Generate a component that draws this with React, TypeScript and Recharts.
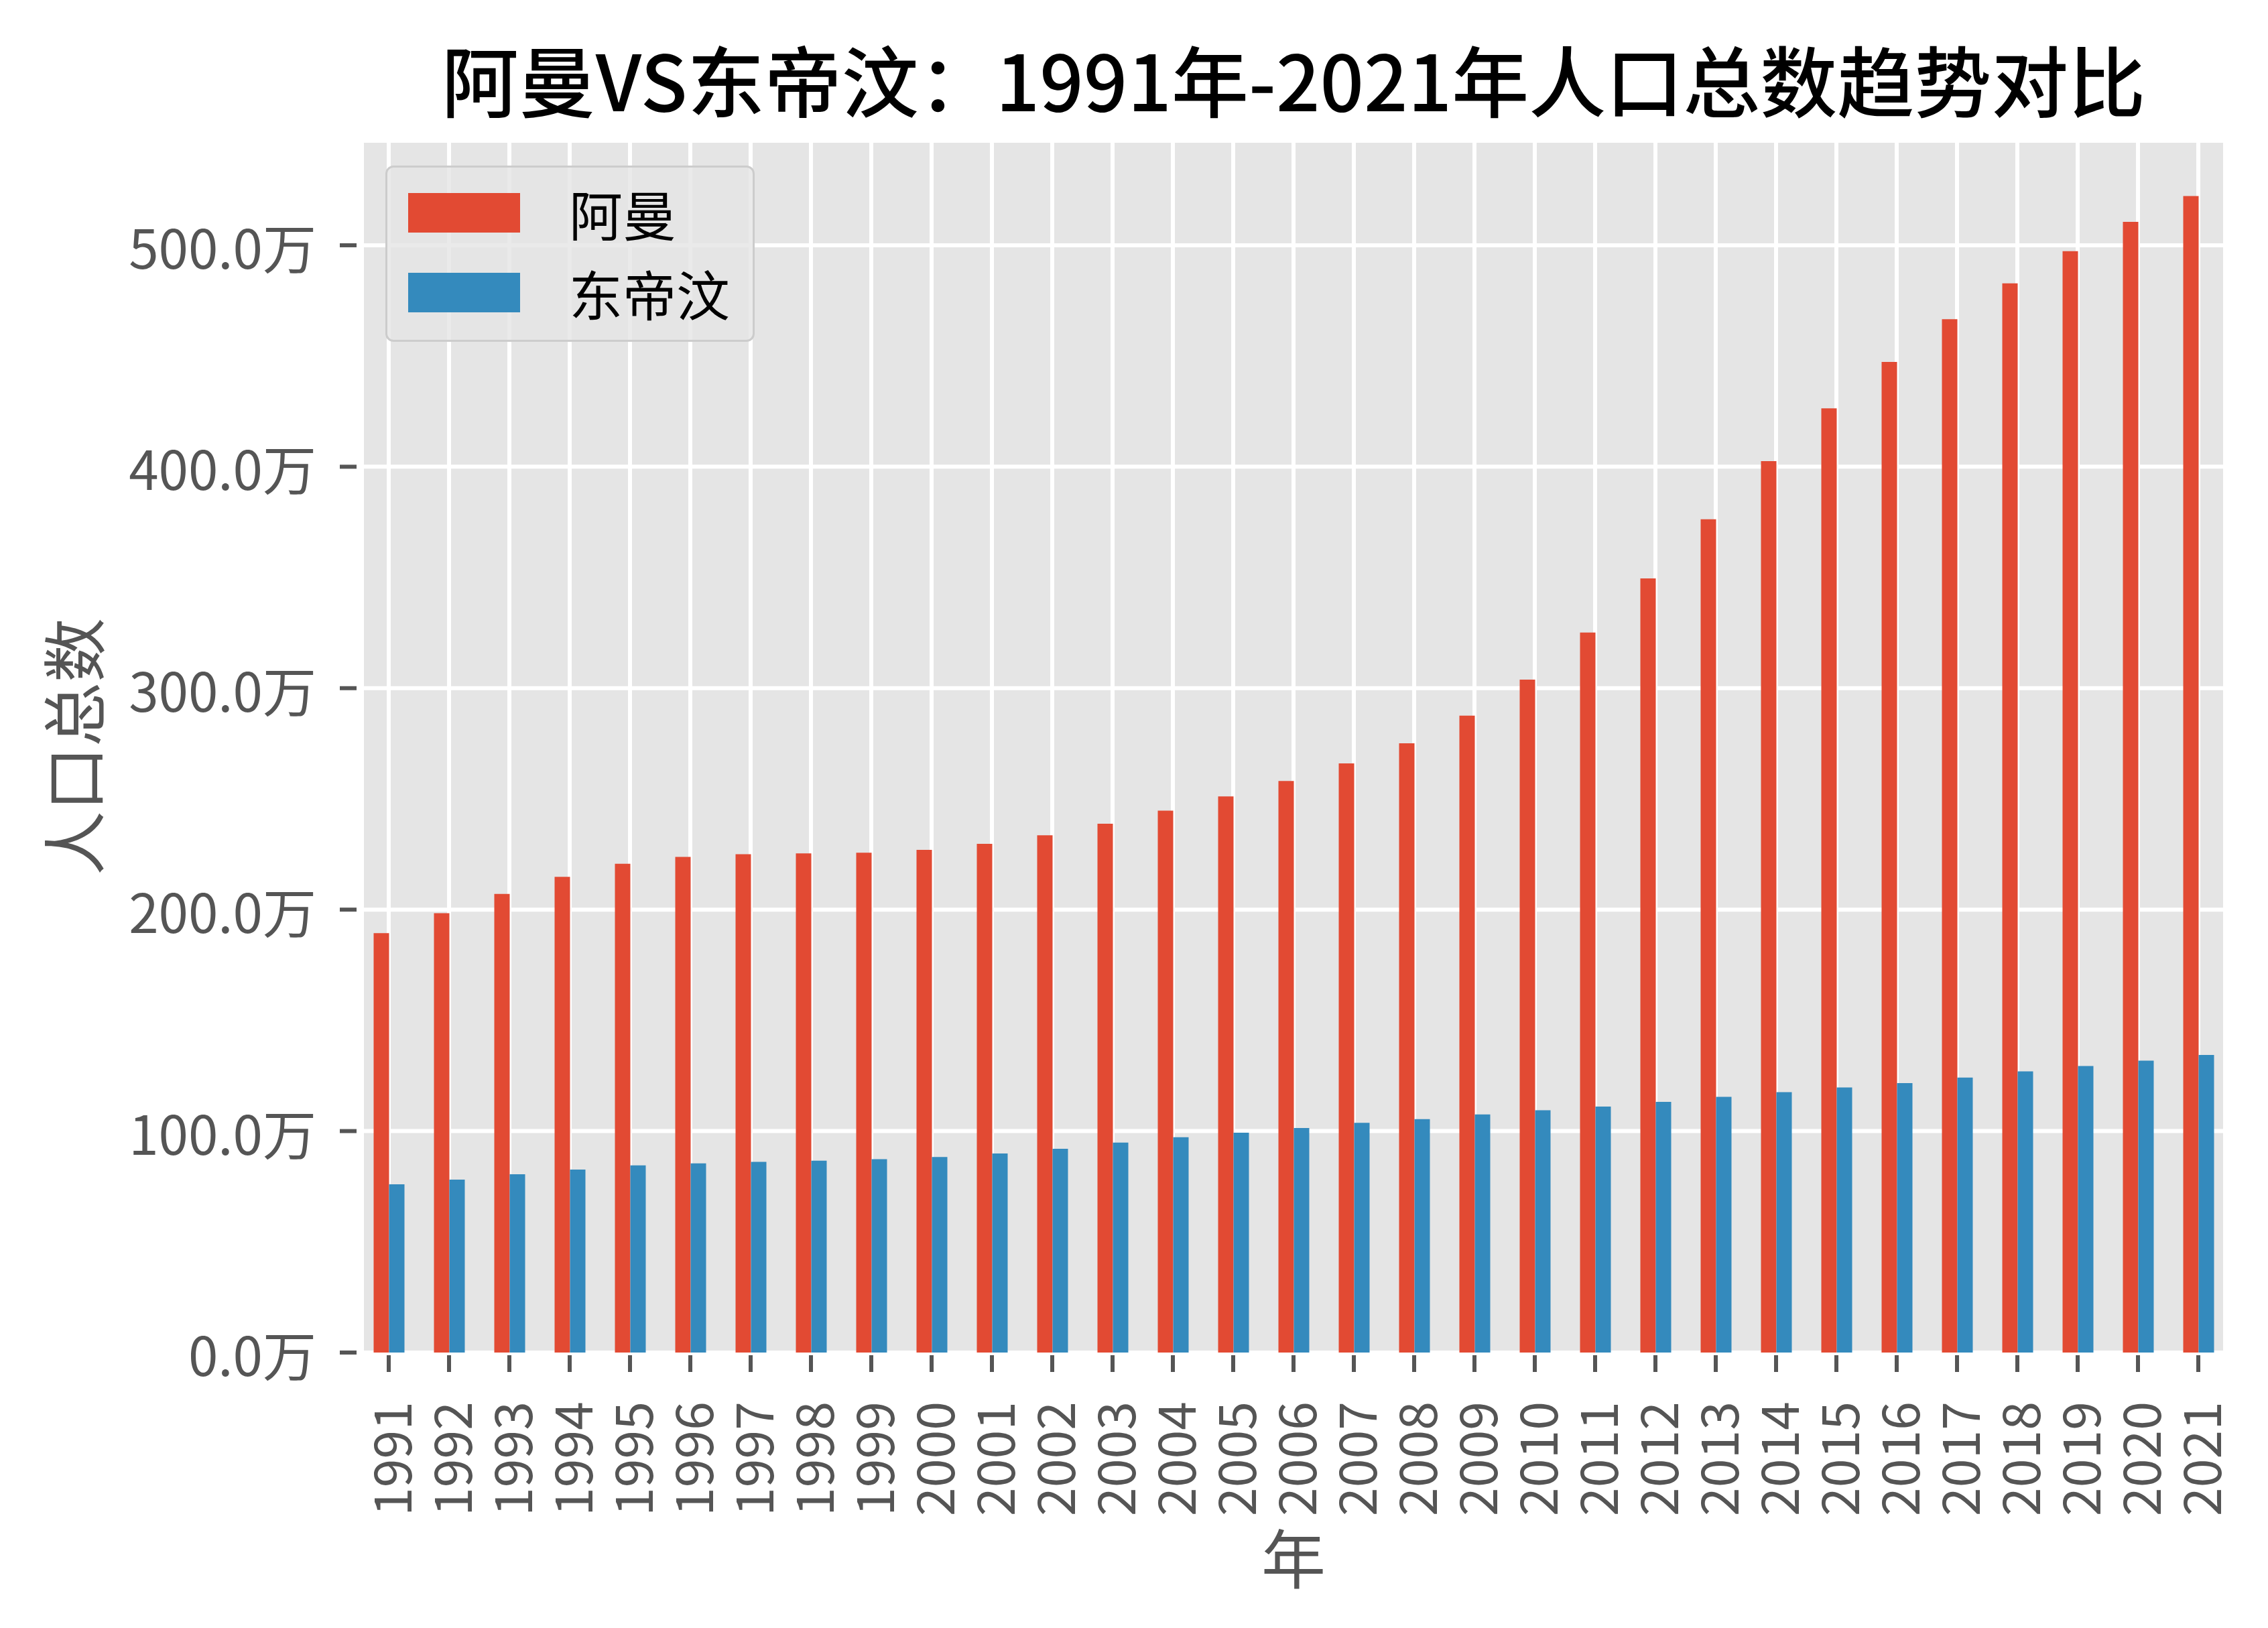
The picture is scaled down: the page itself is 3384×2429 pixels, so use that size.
import React from "react";
import { Bar, BarChart, CartesianGrid, Legend, XAxis, YAxis } from "recharts";

const years = ["1991", "1992", "1993", "1994", "1995", "1996", "1997", "1998", "1999", "2000", "2001", "2002", "2003", "2004", "2005", "2006", "2007", "2008", "2009", "2010", "2011", "2012", "2013", "2014", "2015", "2016", "2017", "2018", "2019", "2020", "2021"];

// 人口总数, 单位: 万
const oman = [189.4, 198.4, 207.1, 214.8, 220.7, 223.8, 225.0, 225.4, 225.7, 227.0, 229.7, 233.6, 238.8, 244.7, 251.1, 258.1, 266.0, 275.1, 287.6, 303.9, 325.1, 349.6, 376.3, 402.5, 426.4, 447.3, 466.6, 482.8, 497.3, 510.6, 522.2];
const timorLeste = [76.0, 78.1, 80.5, 82.6, 84.5, 85.4, 86.1, 86.6, 87.3, 88.3, 89.9, 92.0, 94.8, 97.2, 99.3, 101.4, 103.7, 105.4, 107.5, 109.4, 111.1, 113.2, 115.5, 117.6, 119.7, 121.7, 124.2, 127.0, 129.4, 131.8, 134.4];

const seriesKeys = ["oman", "timor"];
const yTicks = [0, 100, 200, 300, 400, 500];

const title = "阿曼VS东帝汶：1991年-2021年人口总数趋势对比";

const data = years.map((year, i) => ({ year, oman: oman[i], timor: timorLeste[i] }));

const W = 3384;
const H = 2429;
const LEFT = 540;
const RIGHT = 3320;
const TOP = 210;
const BOTTOM = 2018;
const FONT = '"Noto Sans CJK SC", "Noto Sans", sans-serif';
const GREY = "#555555";

function YTick(props: any) {
  const { y, payload } = props;
  return (
    <g>
      <line x1={LEFT - 33} x2={LEFT - 8} y1={y} y2={y} stroke={GREY} strokeWidth={6} />
      <text x={LEFT - 68} y={y} textAnchor="end" dominantBaseline="central" fontSize={80} fill={GREY} fontFamily={FONT}>
        {`${Number(payload.value).toFixed(1)}万`}
      </text>
    </g>
  );
}

function XTick(props: any) {
  const { x, payload } = props;
  return (
    <g>
      <line x1={x} x2={x} y1={BOTTOM + 4} y2={BOTTOM + 29} stroke={GREY} strokeWidth={6} />
      <text transform={`translate(${x},${BOTTOM + 73}) rotate(-90)`} textAnchor="end" dominantBaseline="central" fontSize={77} fill={GREY} fontFamily={FONT}>
        {payload.value}
      </text>
    </g>
  );
}

function LegendBox(props: any) {
  const items = [...(props.payload || [])].sort(
    (a: any, b: any) => seriesKeys.indexOf(a.dataKey) - seriesKeys.indexOf(b.dataKey)
  );
  return (
    <div style={{ width: 551, height: 263, boxSizing: "border-box", background: "rgba(229,229,229,0.8)", border: "3px solid #cccccc", borderRadius: 12, paddingTop: 38, fontFamily: FONT }}>
      {items.map((item: any) => (
        <div key={item.value} style={{ display: "flex", alignItems: "center", height: 59, marginBottom: 60, paddingLeft: 31 }}>
          <div style={{ width: 167, height: 59, background: item.color }} />
          <span style={{ marginLeft: 73, fontSize: 80, lineHeight: "59px", color: "#000" }}>{item.value}</span>
        </div>
      ))}
    </div>
  );
}

export default function App() {
  return (
    <div style={{ position: "relative", width: W, height: H, background: "#fff", fontFamily: FONT }}>
      <style>{`body{margin:0}`}</style>
      <div style={{ position: "absolute", left: LEFT, width: RIGHT - LEFT, top: 54, textAlign: "center", fontSize: 115, lineHeight: "124px", color: "#000", whiteSpace: "nowrap", fontWeight: 500 }}>
        {title}
      </div>
      <div style={{ position: "absolute", left: 106, top: (TOP + BOTTOM) / 2, transform: "translate(-50%,-50%) rotate(-90deg)", fontSize: 96, lineHeight: "100px", color: GREY, whiteSpace: "nowrap" }}>
        人口总数
      </div>
      <div style={{ position: "absolute", left: (LEFT + RIGHT) / 2, top: 2321, transform: "translate(-50%,-50%)", fontSize: 96, lineHeight: "100px", color: GREY }}>
        年
      </div>
      <BarChart width={W} height={H} data={data} margin={{ top: TOP, right: W - RIGHT, bottom: 0, left: 0 }} barCategoryGap="25%" barGap={0}>
        <CartesianGrid stroke="#ffffff" strokeWidth={6} fill="#E5E5E5" fillOpacity={1} />
        <XAxis dataKey="year" interval={0} height={H - BOTTOM} axisLine={false} tickLine={false} tick={<XTick />} padding={{ left: -5, right: -5 }} />
        <YAxis domain={[0, 547.2]} ticks={yTicks} width={LEFT} axisLine={false} tickLine={false} tick={<YTick />} />
        <Legend layout="vertical" align="center" verticalAlign="middle" content={<LegendBox />} wrapperStyle={{ left: 575, top: 247, width: 551, height: 263 }} />
        <Bar dataKey="oman" name="阿曼" fill="#E24A33" isAnimationActive={false} />
        <Bar dataKey="timor" name="东帝汶" fill="#348ABD" isAnimationActive={false} />
      </BarChart>
    </div>
  );
}
